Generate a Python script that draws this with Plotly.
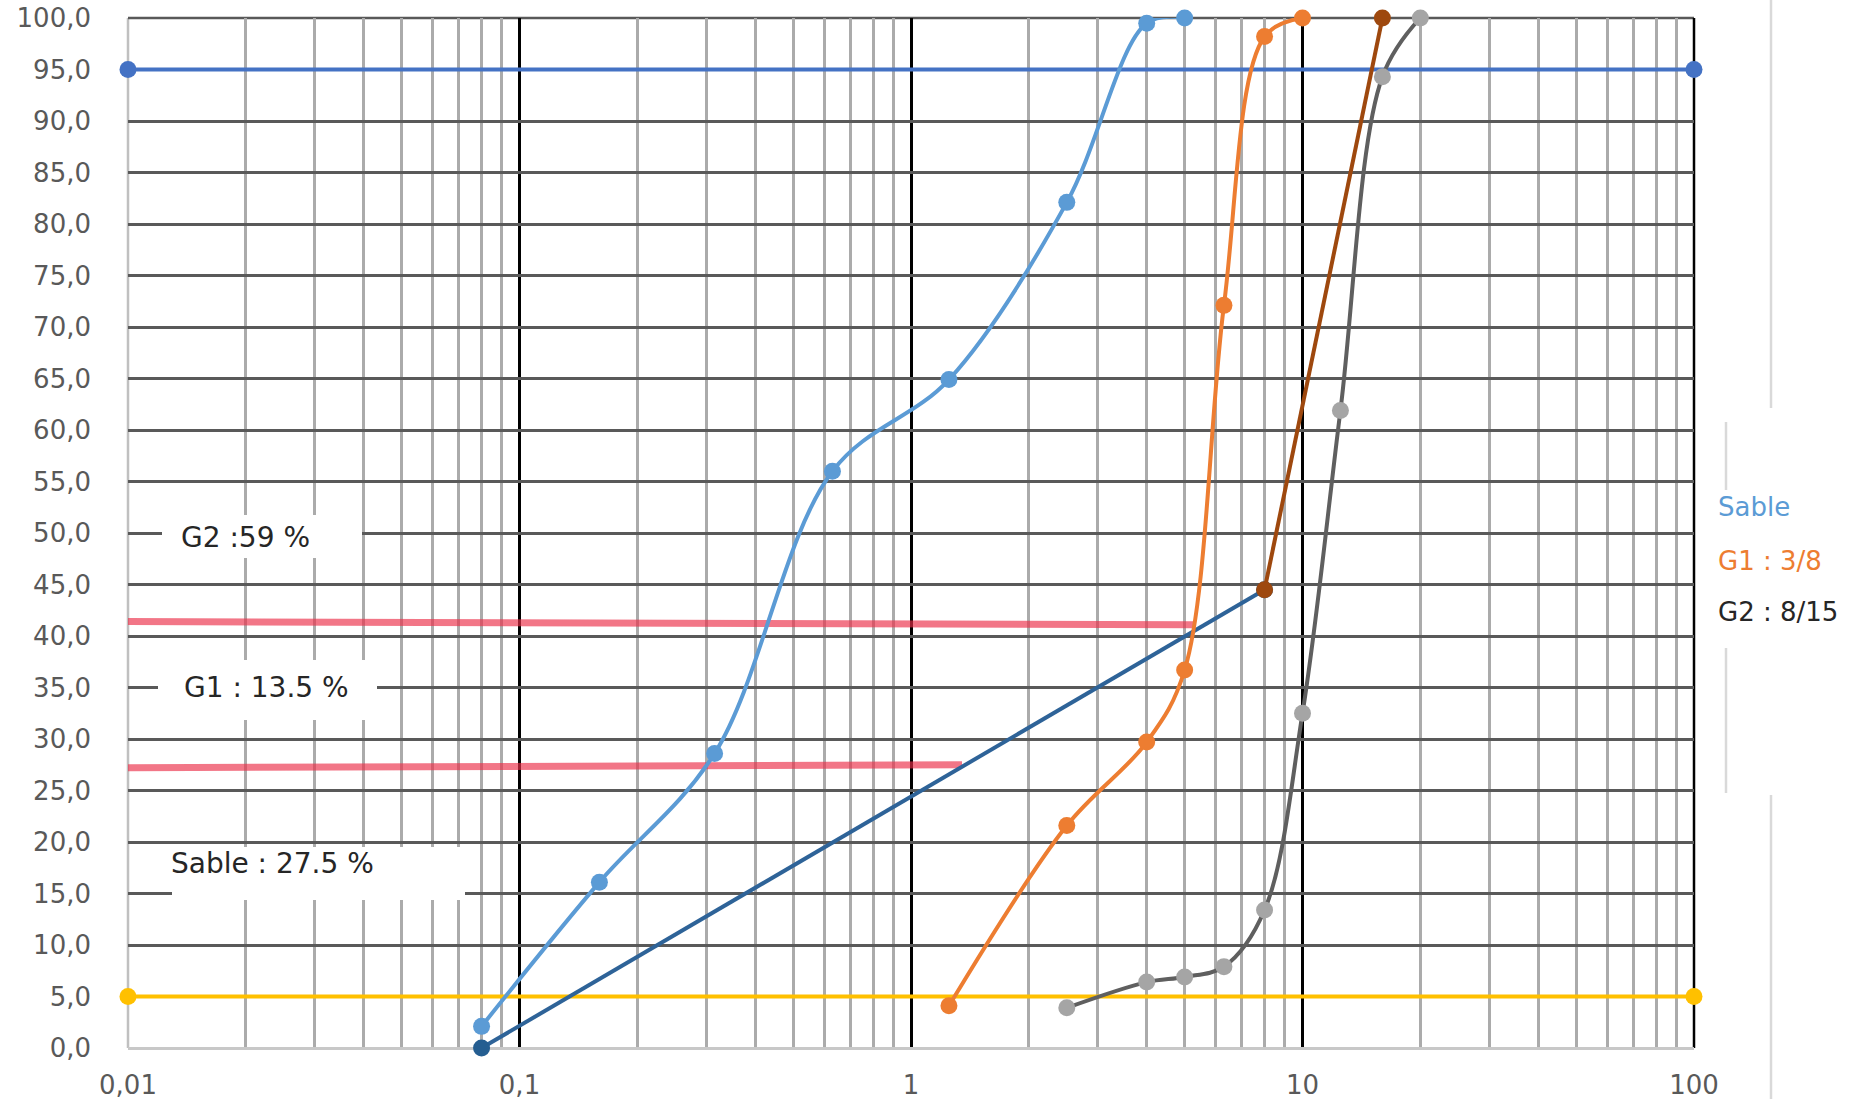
import plotly.graph_objects as go

# ---------------- data ----------------
sieve_sable = [0.08, 0.16, 0.315, 0.63, 1.25, 2.5, 4, 5]
pass_sable = [2.1, 16.1, 28.6, 56.0, 64.9, 82.1, 99.5, 100.0]

sieve_g1 = [1.25, 2.5, 4, 5, 6.3, 8, 10]
pass_g1 = [4.1, 21.6, 29.7, 36.7, 72.1, 98.2, 100.0]

sieve_g2 = [2.5, 4, 5, 6.3, 8, 10, 12.5, 16, 20]
pass_g2 = [3.9, 6.4, 6.9, 7.9, 13.4, 32.5, 61.9, 94.3, 100.0]

ref_low_x = [0.08, 8]
ref_low_y = [0.0, 44.5]
ref_high_x = [8, 16]
ref_high_y = [44.5, 100.0]

limit_x = [0.01, 100]
limit_upper = [95, 95]
limit_lower = [5, 5]

red1_x = [0.01, 5.3]
red1_y = [41.4, 41.1]
red2_x = [0.01, 1.35]
red2_y = [27.2, 27.5]

x_tickvals = [0.01, 0.1, 1, 10, 100]
x_ticktext = ["0,01", "0,1", "1", "10", "100"]
y_tickvals = list(range(0, 101, 5))
y_ticktext = [f"{v},0" for v in y_tickvals]

legend_labels = ["Sable", "G1 : 3/8", "G2 : 8/15"]
box_labels = ["G2 :59 %", "G1 : 13.5 %", "Sable : 27.5 %"]

# ---------------- layout geometry (page pixels) ----------------
W, H = 1854, 1099
X0, X1 = 128, 1694   # plot area, page pixels
Y0, Y1 = 18, 1048


def px(x):
    return (x - X0) / (X1 - X0)


def py(y):
    return (Y1 - y) / (Y1 - Y0)


FONT = "DejaVu Sans, Verdana, sans-serif"
LW = 4
MS = 17

fig = go.Figure()

# red hand-drawn lines
for rx, ry in [(red1_x, red1_y), (red2_x, red2_y)]:
    fig.add_trace(go.Scatter(x=rx, y=ry, mode="lines",
                             line=dict(color="rgba(235,45,70,0.65)", width=7),
                             showlegend=False, hoverinfo="skip"))

# limit lines
fig.add_trace(go.Scatter(x=limit_x, y=limit_upper, mode="lines+markers",
                         line=dict(color="#4472C4", width=LW),
                         marker=dict(size=MS, color="#4472C4"),
                         cliponaxis=False, showlegend=False))
fig.add_trace(go.Scatter(x=limit_x, y=limit_lower, mode="lines+markers",
                         line=dict(color="#FFC000", width=LW),
                         marker=dict(size=MS, color="#FFC000"),
                         cliponaxis=False, showlegend=False))

# reference mix line
fig.add_trace(go.Scatter(x=ref_low_x, y=ref_low_y, mode="lines+markers",
                         line=dict(color="#2E6398", width=LW),
                         marker=dict(size=MS, color="#255E91"),
                         cliponaxis=False, showlegend=False))
fig.add_trace(go.Scatter(x=ref_high_x, y=ref_high_y, mode="lines+markers",
                         line=dict(color="#9E480E", width=LW),
                         marker=dict(size=MS, color="#9E480E"),
                         cliponaxis=False, showlegend=False))

# sable
fig.add_trace(go.Scatter(x=sieve_sable, y=pass_sable, mode="lines+markers",
                         line=dict(color="#5B9BD5", width=LW, shape="spline", smoothing=1),
                         marker=dict(size=MS, color="#5B9BD5"),
                         cliponaxis=False, name=legend_labels[0], showlegend=False))
# G1
fig.add_trace(go.Scatter(x=sieve_g1, y=pass_g1, mode="lines+markers",
                         line=dict(color="#ED7D31", width=LW, shape="spline", smoothing=1),
                         marker=dict(size=MS, color="#ED7D31"),
                         cliponaxis=False, name=legend_labels[1], showlegend=False))
# G2
fig.add_trace(go.Scatter(x=sieve_g2, y=pass_g2, mode="lines+markers",
                         line=dict(color="#5F5F5F", width=LW, shape="spline", smoothing=1),
                         marker=dict(size=MS, color="#A5A5A5"),
                         cliponaxis=False, name=legend_labels[2], showlegend=False))

minor_vals = [m * 10 ** e for e in range(-2, 2) for m in range(2, 10)]

fig.update_xaxes(
    type="log", range=[-2, 2], automargin=False,
    tickmode="array", tickvals=x_tickvals, ticktext=x_ticktext,
    showgrid=True, gridcolor="#000000", gridwidth=2.5,
    minor=dict(tickmode="array", tickvals=minor_vals, showgrid=True,
               gridcolor="#ABABAB", gridwidth=2.5, ticks=""),
    ticks="", showline=False, zeroline=False,
    tickfont=dict(family=FONT, size=26, color="#595959"),
    ticklabelstandoff=19, ticklabeloverflow="allow",
)
fig.update_yaxes(
    range=[0, 100], automargin=False,
    tickmode="array", tickvals=y_tickvals, ticktext=y_ticktext,
    showgrid=True, gridcolor="#595959", gridwidth=2.5,
    zeroline=True, zerolinecolor="#C8C8C8", zerolinewidth=2.5,
    ticks="", showline=False,
    tickfont=dict(family=FONT, size=26, color="#595959"),
    ticklabelstandoff=36, ticklabeloverflow="allow",
)

shapes = []
# plot frame: grey left edge at 0.01, black right edge at 100, dark top edge at 100 %
shapes.append(dict(type="line", xref="x domain", yref="y domain", x0=0, x1=0, y0=0, y1=1,
                   line=dict(color="#C0C0C0", width=2.5), layer="below"))
shapes.append(dict(type="line", xref="x domain", yref="y domain", x0=0, x1=1, y0=1, y1=1,
                   line=dict(color="#595959", width=2.5), layer="below"))
shapes.append(dict(type="line", xref="x domain", yref="y domain", x0=1, x1=1, y0=0, y1=1,
                   line=dict(color="#000000", width=2.5), layer="below"))
# white label boxes (page pixel extents)
for (l, r, t, b) in [(162, 362, 515, 558), (158, 377, 660, 720), (172, 465, 847, 900)]:
    shapes.append(dict(type="rect", xref="paper", yref="paper",
                       x0=px(l), x1=px(r), y0=py(b), y1=py(t),
                       fillcolor="white", line=dict(width=0), layer="above"))
# faint vertical lines on the right (frame remnants)
for (x, t, b) in [(1771, 0, 408), (1771, 795, 1099), (1726, 422, 490), (1726, 648, 793)]:
    shapes.append(dict(type="line", xref="paper", yref="paper",
                       x0=px(x), x1=px(x), y0=py(b), y1=py(t),
                       line=dict(color="#D9D9D9", width=2.5), layer="above"))

annotations = []
for txt, (x, y) in zip(box_labels, [(179, 537), (182, 687), (169, 863)]):
    annotations.append(dict(text=txt, xref="paper", yref="paper", x=px(x), y=py(y),
                            xanchor="left", yanchor="middle", showarrow=False,
                            font=dict(family=FONT, size=28, color="#262626")))
for txt, col, y in zip(legend_labels, ["#5B9BD5", "#ED7D31", "#262626"], [507, 561, 612]):
    annotations.append(dict(text=txt, xref="paper", yref="paper", x=px(1716), y=py(y),
                            xanchor="left", yanchor="middle", showarrow=False,
                            font=dict(family=FONT, size=26, color=col)))

fig.update_layout(
    width=W, height=H, autosize=False,
    margin=dict(l=X0, r=W - X1, t=Y0, b=H - Y1, autoexpand=False),
    paper_bgcolor="white", plot_bgcolor="white",
    shapes=shapes, annotations=annotations,
    showlegend=False,
)

# remove the default page margin so the figure fills the window exactly
fig.write_html("out.html",
               config={"displayModeBar": False},
               post_script="document.body.style.margin='0';document.body.style.overflow='hidden';")
